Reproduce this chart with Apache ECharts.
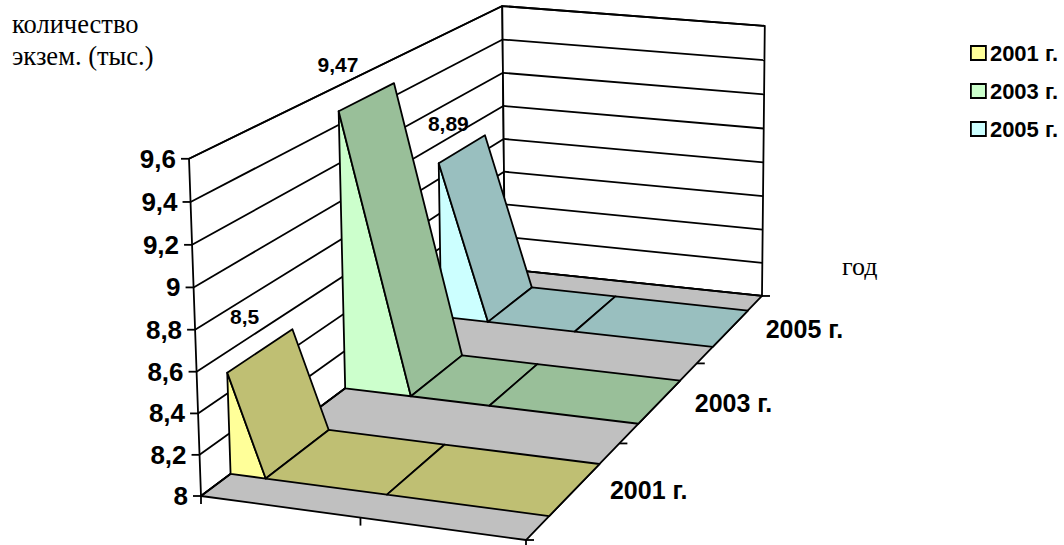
<!DOCTYPE html>
<html><head><meta charset="utf-8">
<style>html,body{margin:0;padding:0;background:#fff}#c{width:1064px;height:545px}</style>
<script src="https://cdn.jsdelivr.net/npm/echarts@6/dist/echarts.min.js"></script>
</head><body><div id="c"></div>
<script>
// ---- data ----
const yearNames = ['2001 г.', '2003 г.', '2005 г.'];
const yTicks = [8, 8.2, 8.4, 8.6, 8.8, 9, 9.2, 9.4, 9.6];
const yTickLabels = ['8', '8,2', '8,4', '8,6', '8,8', '9', '9,2', '9,4', '9,6'];
const alongAxis2001 = [0, 0.114, 0.5, 1];
const alongAxis2003 = [0, 0.23, 0.5, 1];
const alongAxis2005 = [0, 0.177, 0.5, 1];
const values2001 = [8.5, 8, 8, 8];
const values2003 = [9.47, 8, 8, 8];
const values2005 = [8.89, 8, 8, 8];
const peakLabels = ['8,5', '9,47', '8,89'];

// ---- styles and 3D camera ----
const sideColors = ['#FFFF99', '#CCFFCC', '#CCFFFF'];
const topColors = ['#BFBF73', '#99BF99', '#99BFBF'];
const peakOffsets = [[-16, -34], [-29, -32], [-14, -25]];
const bandHalf = 0.09;
const LW = 1.8;
const cam = { a: 305.71, b: 454.6, cx: -17.1, x0: 201, d: 24.2, e: -146.8, cy: -341.5, y0: 496, g: -0.03667, h: 0.29826, i: -0.027 };
function proj(u, v, t) {
  const w = cam.g * u + cam.h * v + cam.i * t + 1;
  return [(cam.a * u + cam.b * v + cam.cx * t + cam.x0) / w, (cam.d * u + cam.e * v + cam.cy * t + cam.y0) / w];
}
// read axis-scaled coordinates back as unit cube coordinates
function unit(api, x, val) {
  const p = api.coord([x, val]);
  return [p[0] / api.getWidth(), 1 - p[1] / api.getHeight()];
}
const stroke = { stroke: '#000', lineWidth: LW, lineJoin: 'round' };
function poly(points, fill) {
  return { type: 'polygon', shape: { points }, style: Object.assign({ fill: fill || 'none' }, stroke) };
}
function seg(a, b, w) {
  return { type: 'line', shape: { x1: a[0], y1: a[1], x2: b[0], y2: b[1] }, style: { stroke: '#000', lineWidth: w || LW, fill: null } };
}
function txt(x, y, text, font, align) {
  return { type: 'text', style: { x, y, text, font, fill: '#000', textAlign: align || 'left', textVerticalAlign: 'middle' } };
}
const fontTick = 'bold 26px "Liberation Sans", Arial, sans-serif';
const fontCat = 'bold 25px "Liberation Sans", Arial, sans-serif';
const fontPeak = 'bold 21px "Liberation Sans", Arial, sans-serif';

function renderFrame(params, api) {
  const val = api.value(0), idx = params.dataIndex;
  const t = unit(api, 0, val)[1];
  const ch = [];
  if (idx === 0) {
    ch.push(poly([proj(0, 0, 0), proj(0, 1, 0), proj(0, 1, 1), proj(0, 0, 1)], '#fff'));
    ch.push(poly([proj(0, 1, 0), proj(1, 1, 0), proj(1, 1, 1), proj(0, 1, 1)], '#fff'));
    ch.push(poly([proj(0, 0, 0), proj(1, 0, 0), proj(1, 1, 0), proj(0, 1, 0)], '#C0C0C0'));
    [0, 0.5, 1].forEach(u => { const p = proj(u, 0, 0); ch.push(seg(p, [p[0], p[1] + 8])); });
    [0, 1 / 3, 2 / 3, 1].forEach(v => { const p = proj(1, v, 0); ch.push(seg(p, [p[0] + 8, p[1]])); });
    yearNames.forEach((n, s) => {
      const p = proj(1, (s + 0.5) / 3, 0);
      ch.push(txt(p[0] + 35, p[1] + 1, n, fontCat));
    });
  }
  const a = proj(0, 0, t), b = proj(0, 1, t), c = proj(1, 1, t);
  ch.push(seg(a, b), seg(b, c), seg(a, [a[0] - 8, a[1]]));
  ch.push(txt(a[0] - 13, a[1], yTickLabels[idx], fontTick, 'right'));
  return { type: 'group', children: ch };
}

function renderArea(s, us, vals) {
  const vf = (s + 0.5) / 3 - bandHalf, vb = (s + 0.5) / 3 + bandHalf;
  return function (params, api) {
    const i = params.dataIndex;
    if (i >= us.length - 1) return null;
    const p0 = unit(api, api.value(0), api.value(1));
    const p1 = unit(api, us[i + 1], vals[i + 1]);
    const ch = [];
    if (i === 0) {
      const floor = unit(api, 0, yTicks[0])[1];
      ch.push(poly([proj(p0[0], vf, floor), proj(p0[0], vf, p0[1]), proj(p1[0], vf, p1[1])], sideColors[s]));
    }
    ch.push(poly([proj(p0[0], vf, p0[1]), proj(p1[0], vf, p1[1]), proj(p1[0], vb, p1[1]), proj(p0[0], vb, p0[1])], topColors[s]));
    if (i === 0) {
      const m = proj(p0[0], (vf + vb) / 2, p0[1]);
      ch.push(txt(m[0] + peakOffsets[s][0], m[1] + peakOffsets[s][1], peakLabels[s], fontPeak, 'center'));
    }
    return { type: 'group', children: ch };
  };
}

const xs = [alongAxis2001, alongAxis2003, alongAxis2005];
const ys = [values2001, values2003, values2005];
const areaSeries = yearNames.map((name, s) => ({
  type: 'custom', name, coordinateSystem: 'cartesian2d', z: 10 - s, silent: true, clip: false,
  itemStyle: { color: sideColors[s] }, encode: { x: 0, y: 1 },
  renderItem: renderArea(s, xs[s], ys[s]),
  data: xs[s].map((u, i) => [u, ys[s][i]])
}));

const chart = echarts.init(document.getElementById('c'), null, { renderer: 'svg', width: 1064, height: 545 });
chart.setOption({
  animation: false, backgroundColor: '#fff',
  grid: { left: 0, right: 0, top: 0, bottom: 0 },
  xAxis: { type: 'value', min: 0, max: 1, show: false },
  yAxis: { type: 'value', min: 8, max: 9.6, show: false },
  title: [
    { text: 'количество\nэкзем. (тыс.)', left: 12, top: 8, padding: 0, textStyle: { fontFamily: '"Liberation Serif", serif', fontSize: 26.5, fontWeight: 'normal', color: '#000', lineHeight: 32 } },
    { text: 'год', left: 842, top: 253, padding: 0, textStyle: { fontFamily: '"Liberation Serif", serif', fontSize: 26, fontWeight: 'normal', color: '#000' } }
  ],
  legend: {
    data: yearNames, orient: 'vertical', left: 970, top: 42, padding: 0, itemWidth: 15, itemHeight: 14, itemGap: 16, icon: 'rect',
    textStyle: { fontFamily: '"Liberation Sans", Arial, sans-serif', fontWeight: 'bold', fontSize: 22, color: '#000', padding: [0, 0, 0, -1] },
    itemStyle: { borderColor: '#000', borderWidth: 1.8 }
  },
  series: [{
    type: 'custom', name: 'frame', coordinateSystem: 'cartesian2d', z: 1, silent: true, clip: false,
    encode: { y: 0 }, renderItem: renderFrame, data: yTicks.map(v => [v])
  }].concat(areaSeries)
});
</script></body></html>
